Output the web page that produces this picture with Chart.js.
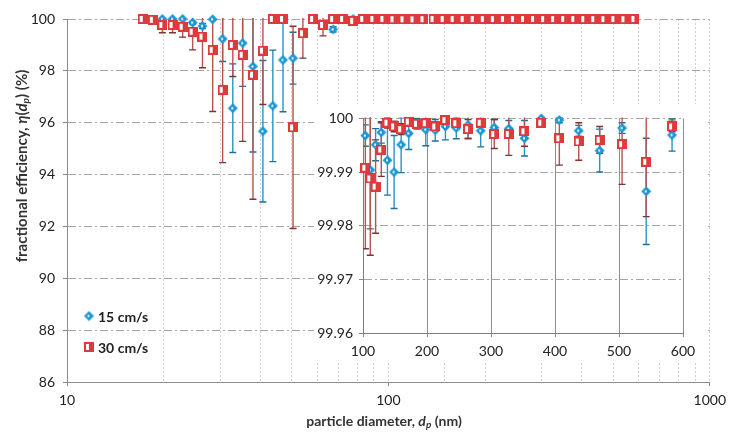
<!DOCTYPE html>
<html>
<head>
<meta charset="utf-8">
<script src="https://cdn.jsdelivr.net/npm/chart.js@4.4.1/dist/chart.umd.min.js"></script>
<style>
html, body { margin: 0; padding: 0; background: #fff; }
#wrap { position: relative; width: 732px; height: 432px; overflow: hidden; }
#mainChart { position: absolute; left: 0; top: 0; }
#insetChart { position: absolute; left: 314px; top: 104px; background: #fff; }
</style>
</head>
<body>
<div id="wrap">
  <canvas id="mainChart" width="732" height="432"></canvas>
  <canvas id="insetChart" width="392" height="258"></canvas>
</div>
<script>
// particle diameters (nm), SMPS channels
const diameters = [17.2, 18.5, 19.8, 21.3, 22.9, 24.6, 26.4, 28.4, 30.5, 32.8,
  35.2, 37.9, 40.7, 43.7, 47.0, 50.5, 54.2, 58.3, 62.6, 67.3,
  72.3, 77.7, 83.5, 89.8, 96.5, 103.7, 111.4, 119.7, 128.6, 138.2,
  148.6, 159.6, 171.5, 184.3, 198.1, 212.9, 228.8, 245.8, 264.2, 283.9,
  305.1, 327.8, 352.3, 378.6, 406.8, 437.1, 469.8, 504.8, 542.5, 582.9];

// 15 cm/s
const eff15 = [null, null, 100, 100, 100, 99.86, 99.73, 99.99, 99.23, 96.56,
  99.07, 98.17, 95.67, 96.65, 98.42, 98.49, null, 100, null, 99.6,
  100, 100, 100, 99.99, 99.99, 99.9968, 99.9904, 99.9951, 99.9974, 99.9922,
  99.9900, 99.9951, 99.9972, 99.9990, 99.9979, 99.9978, 99.9985, 99.9982, 99.9988, 99.9977,
  99.9983, 99.9981, 99.9963, 100.0000, 99.9997, 99.9977, 99.9940, 99.9982, 99.9864, 99.9969];
const err15 = [0, 0, 0, 0, 0, 0.05, 0.1, 0, 0.87, 1.71,
  1.67, 3.3, 2.73, 2.15, 2.0, 1.0, 0, 0, 0, 0.1,
  0, 0, 0, 0, 0, 0.002, 0.011, 0.003, 0.002, 0.0065,
  0.0068, 0.0052, 0.003, 0.001, 0.003, 0.002, 0.0025, 0.002, 0.0025, 0.003,
  0.0015, 0.0015, 0.0033, 0.0003, 0.0005, 0.001, 0.004, 0.001, 0.0099, 0.003];

// 30 cm/s
const eff30 = [100, 99.97, 99.77, 99.77, 99.70, 99.51, 99.32, 98.81, 97.27, 99.0,
  98.62, 97.85, 98.78, 100, 100, 95.82, 99.45, 100, 99.77, 100,
  100, 99.93, 100, 100, 100, 99.9908, 99.9888, 99.9873, 99.9942, 99.9992,
  99.9985, 99.9980, 99.9994, 99.9990, 99.9991, 99.9985, 99.9997, 99.9991, 99.9980, 99.9992,
  99.9971, 99.9971, 99.9976, 99.9992, 99.9963, 99.9957, 99.9960, 99.9952, 99.9919, 99.9985];
const err30 = [0, 0, 0.3, 0.3, 0.4, 0.7, 1.2, 2.38, 2.81, 1.22,
  3.34, 4.8, 2.08, 0, 0, 3.9, 0.96, 0, 0.42, 0,
  0, 0.05, 0, 0, 0, 0.0151, 0.0143, 0.0087, 0.005, 0.001,
  0.001, 0.001, 0.0005, 0.0008, 0.0005, 0.0008, 0.0005, 0.0005, 0.0018, 0.0008,
  0.0027, 0.004, 0.0028, 0.0008, 0.005, 0.0035, 0.0025, 0.0075, 0.0102, 0.001];

const seriesLabels = ['15 cm/s', '30 cm/s'];
const mainYTicks = [86, 88, 90, 92, 94, 96, 98, 100];
const insetYTicks = [99.96, 99.97, 99.98, 99.99, 100];

const BLUE = '#1b96d4';
const RED = '#e0393c';

Chart.defaults.font.family = "Lato, 'Open Sans', sans-serif";
Chart.defaults.color = '#222';

// markers
function makeDiamond() {
  const c = document.createElement('canvas');
  c.width = 11; c.height = 11;
  const g = c.getContext('2d');
  g.fillStyle = BLUE;
  g.beginPath();
  g.moveTo(5.5, 0.5); g.lineTo(10.5, 5.5); g.lineTo(5.5, 10.5); g.lineTo(0.5, 5.5);
  g.closePath(); g.fill();
  g.fillStyle = '#fff';
  g.fillRect(4, 4.5, 2, 2);
  return c;
}
function makeSquare() {
  const c = document.createElement('canvas');
  c.width = 10; c.height = 10;
  const g = c.getContext('2d');
  g.fillStyle = RED;
  g.fillRect(0, 0, 10, 10);
  g.fillStyle = '#fff';
  g.fillRect(2, 2, 3, 6);
  return c;
}
const diamond = makeDiamond();
const square = makeSquare();

function points(values, errs, minX) {
  const out = [];
  diameters.forEach((d, i) => {
    if (values[i] === null || d < minX) return;
    out.push({x: d, y: values[i], err: errs[i]});
  });
  return out;
}

function datasets(minX) {
  return [
    {label: seriesLabels[0], data: points(eff15, err15, minX), pointStyle: diamond,
     barColor: '#2a92c6', capColor: '#1f6f96', order: 1, clip: false, showLine: false},
    {label: seriesLabels[1], data: points(eff30, err30, minX), pointStyle: square,
     barColor: '#b9514d', capColor: '#7d3431', order: 0, clip: false, showLine: false}
  ];
}

const errorBars = {
  id: 'errorBars',
  beforeDatasetsDraw(chart) {
    const {ctx, chartArea: a, scales} = chart;
    ctx.save();
    ctx.beginPath();
    ctx.rect(a.left, a.top - 1, a.right - a.left, a.bottom - a.top + 2);
    ctx.clip();
    chart.data.datasets.forEach(ds => {
      ds.data.forEach(p => {
        if (!p.err) return;
        const px = scales.x.getPixelForValue(p.x);
        const top = scales.y.getPixelForValue(p.y + p.err);
        const bot = scales.y.getPixelForValue(p.y - p.err);
        ctx.lineWidth = 1.4;
        ctx.strokeStyle = ds.barColor;
        ctx.beginPath(); ctx.moveTo(px, top); ctx.lineTo(px, bot); ctx.stroke();
        ctx.strokeStyle = ds.capColor;
        ctx.beginPath();
        ctx.moveTo(px - 3.5, top); ctx.lineTo(px + 3.5, top);
        ctx.moveTo(px - 3.5, bot); ctx.lineTo(px + 3.5, bot);
        ctx.stroke();
      });
    });
    ctx.restore();
  }
};

function drawRich(ctx, parts, cx, cy, angle) {
  ctx.save();
  ctx.translate(cx, cy);
  ctx.rotate(angle);
  ctx.textBaseline = 'middle';
  ctx.textAlign = 'left';
  ctx.fillStyle = '#333';
  let total = 0;
  parts.forEach(p => { ctx.font = p.font; total += ctx.measureText(p.text).width; });
  let x = -total / 2;
  parts.forEach(p => {
    ctx.font = p.font;
    ctx.fillText(p.text, x, p.dy || 0);
    x += ctx.measureText(p.text).width;
  });
  ctx.restore();
}

const F = "Lato, 'Open Sans', sans-serif";
const titles = {
  id: 'titles',
  afterDraw(chart) {
    const ctx = chart.ctx;
    drawRich(ctx, [
      {text: 'fractional efficiency, ', font: 'bold 15px ' + F},
      {text: 'η', font: 'italic bold 15px ' + F},
      {text: '(', font: 'bold 15px ' + F},
      {text: 'd', font: 'italic bold 15px ' + F},
      {text: 'p', font: 'italic bold 10px ' + F, dy: 4},
      {text: ') (%)', font: 'bold 15px ' + F}
    ], 22, 166, -Math.PI / 2);
    drawRich(ctx, [
      {text: 'particle diameter, ', font: 'bold 14px ' + F},
      {text: 'd', font: 'italic bold 14px ' + F},
      {text: 'p', font: 'italic bold 10px ' + F, dy: 4},
      {text: ' (nm)', font: 'bold 14px ' + F}
    ], 384, 421, 0);
  }
};

const legendInside = {
  id: 'legendInside',
  afterDraw(chart) {
    const ctx = chart.ctx;
    const rows = [316, 347];
    chart.data.datasets.forEach((ds, i) => {
      const img = ds.pointStyle;
      ctx.drawImage(img, 89 - img.width / 2, rows[i] - img.height / 2);
      ctx.font = 'bold 14px ' + F;
      ctx.fillStyle = '#222';
      ctx.textBaseline = 'middle';
      ctx.textAlign = 'left';
      ctx.fillText(ds.label, 98, rows[i] + 1);
    });
  }
};

const isDecade = v => Math.abs(Math.log10(v) - Math.round(Math.log10(v))) < 1e-6;

new Chart(document.getElementById('mainChart'), {
  type: 'scatter',
  data: {datasets: datasets(0)},
  options: {
    responsive: false,
    animation: false,
    events: [],
    layout: {padding: {top: 19, right: 16, left: 0, bottom: 0}},
    scales: {
      x: {
        type: 'logarithmic',
        min: 10,
        max: 1000,
        afterFit: s => { s.height = 50; },
        ticks: {
          autoSkip: false, maxRotation: 0, padding: 6,
          font: {size: 14},
          callback: v => isDecade(v) ? String(Math.round(v)) : ''
        },
        grid: {
          color: '#cfcfcf', tickLength: 4, tickBorderDash: [],
          tickColor: c => (c.tick && isDecade(c.tick.value)) ? '#888' : 'rgba(0,0,0,0)'
        },
        border: {color: '#8c8c8c', dash: [2, 2]}
      },
      y: {
        min: 86,
        max: 100,
        afterFit: s => { s.width = 67; },
        afterBuildTicks: s => { s.ticks = mainYTicks.map(v => ({value: v})); },
        ticks: {padding: 8, font: {size: 14}, callback: v => String(v)},
        grid: {color: '#a5a5a5', tickLength: 4, tickColor: '#888', tickBorderDash: []},
        border: {color: '#8c8c8c', dash: [8, 3, 2, 3]}
      }
    },
    plugins: {legend: {display: false}, tooltip: {enabled: false}}
  },
  plugins: [errorBars, titles, legendInside]
});

new Chart(document.getElementById('insetChart'), {
  type: 'scatter',
  data: {datasets: datasets(100)},
  options: {
    responsive: false,
    animation: false,
    events: [],
    layout: {padding: {top: 11, right: 23, left: 0, bottom: 0}},
    scales: {
      x: {
        min: 100,
        max: 600,
        afterFit: s => { s.height = 29; },
        ticks: {stepSize: 100, padding: 6, font: {size: 14}, maxRotation: 0},
        grid: {color: '#8f8f8f', tickLength: 4, tickColor: '#888'},
        border: {color: '#7f7f7f'}
      },
      y: {
        min: 99.96,
        max: 100,
        afterFit: s => { s.width = 49; },
        afterBuildTicks: s => { s.ticks = insetYTicks.map(v => ({value: v})); },
        ticks: {
          padding: 6, font: {size: 14},
          callback: v => Math.abs(v - 100) < 1e-9 ? '100' : v.toFixed(2)
        },
        grid: {color: '#a5a5a5', tickLength: 4, tickColor: '#888', tickBorderDash: []},
        border: {color: '#7f7f7f', dash: [8, 3, 2, 3]}
      }
    },
    plugins: {legend: {display: false}, tooltip: {enabled: false}}
  },
  plugins: [errorBars]
});
</script>
</body>
</html>
